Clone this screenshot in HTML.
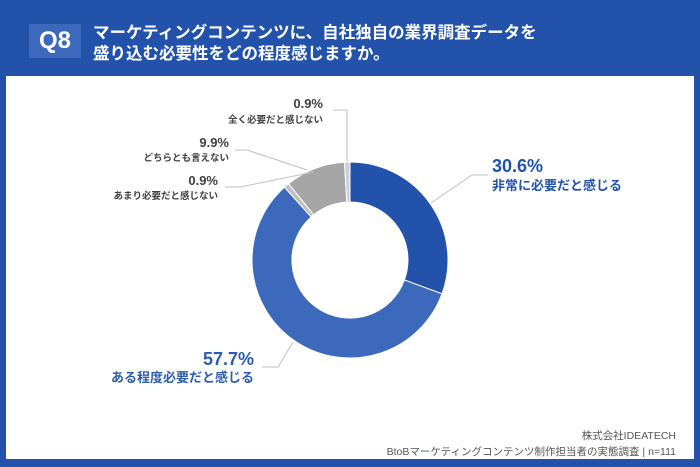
<!DOCTYPE html>
<html><head><meta charset="utf-8"><style>
body{margin:0;width:700px;height:467px;background:#2252a9;position:relative;overflow:hidden;font-family:"Liberation Sans","Noto Sans CJK JP",sans-serif;}
.panel{position:absolute;left:6px;top:76px;width:688px;height:383px;background:#fff;}
.q{position:absolute;left:29px;top:24px;width:52px;height:34px;background:#3d69bd;color:#fff;font-weight:bold;font-size:24px;line-height:34px;text-align:center;}
.t{position:absolute;left:93px;top:23px;color:#fff;font-weight:bold;font-size:16.5px;line-height:21px;}
svg{position:absolute;left:0;top:0;}
</style></head><body>
<div class="q">Q8</div>
<div class="t">マーケティングコンテンツに、自社独自の業界調査データを<br>盛り込む必要性をどの程度感じますか。</div>
<div class="panel"></div>
<svg width="700" height="467" viewBox="0 0 700 467" font-family="Liberation Sans, Noto Sans CJK JP, sans-serif">
<g stroke="#fff" stroke-width="1">
<path d="M350,162 A98,98 0 0 1 442,293.8 L404.4,280 A58,58 0 0 0 350,202Z" fill="#2252a9"/>
<path d="M442,293.8 A98,98 0 1 1 284.4,187.2 L311.2,216.9 A58,58 0 1 0 404.4,280Z" fill="#3d69bd"/>
<path d="M284.4,187.2 A98,98 0 0 1 288.6,183.7 L313.7,214.8 A58,58 0 0 0 311.2,216.9Z" fill="#bfbfbf"/>
<path d="M288.6,183.7 A98,98 0 0 1 344.5,162.2 L346.8,202.1 A58,58 0 0 0 313.7,214.8Z" fill="#a5a5a5"/>
<path d="M344.5,162.2 A98,98 0 0 1 350,162 L350,202 A58,58 0 0 0 346.8,202.1Z" fill="#d0d0d0"/>
</g>
<g stroke="#bfbfbf" stroke-width="1" fill="none">
<polyline points="431,203 472,175 488,175"/>
<polyline points="293,342 278,367 262,367"/>
<polyline points="347,162 347,110 333,110"/>
<polyline points="307,170 247,150 235,150"/>
<polyline points="314,172 240,187 225,187"/>
</g>
<g font-weight="bold">
<text x="492" y="172" font-size="18" fill="#2252a9">30.6%</text>
<text x="492" y="190" font-size="13" fill="#2252a9">非常に必要だと感じる</text>
<text x="254" y="365" font-size="18" fill="#2e5cad" text-anchor="end">57.7%</text>
<text x="254" y="382" font-size="13" fill="#2e5cad" text-anchor="end">ある程度必要だと感じる</text>
<g fill="#404040" text-anchor="end">
<text x="323" y="108" font-size="13">0.9%</text>
<text x="323" y="123" font-size="9.5">全く必要だと感じない</text>
<text x="229" y="147" font-size="13">9.9%</text>
<text x="229" y="161" font-size="9.5">どちらとも言えない</text>
<text x="218" y="185" font-size="13">0.9%</text>
<text x="218" y="199" font-size="9.5">あまり必要だと感じない</text>
</g></g>
<g fill="#555" font-size="10.5" text-anchor="end">
<text x="676" y="439">株式会社IDEATECH</text>
<text x="676" y="455">BtoBマーケティングコンテンツ制作担当者の実態調査 | n=111</text>
</g>
</svg>
</body></html>
